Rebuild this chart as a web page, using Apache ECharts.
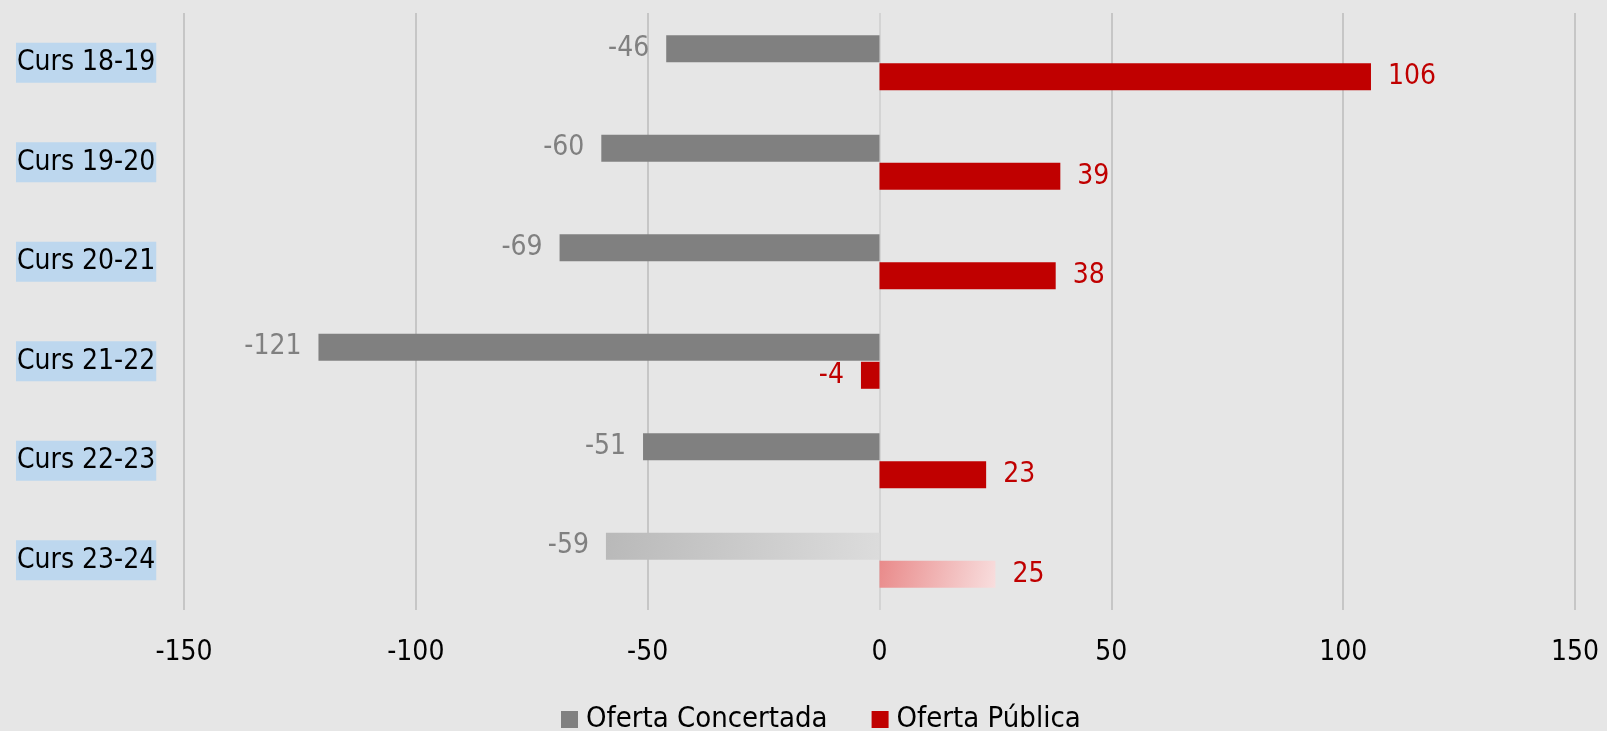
<!DOCTYPE html>
<html>
<head>
<meta charset="utf-8">
<script src="https://cdn.jsdelivr.net/npm/echarts@6/dist/echarts.min.js"></script>
<style>
    html, body { margin: 0; padding: 0; background: #e6e6e6; }
    #chart { width: 1607px; height: 731px; }
</style>
</head>
<body>
<div id="chart"></div>
<script>
const categories = ['Curs 18-19', 'Curs 19-20', 'Curs 20-21', 'Curs 21-22', 'Curs 22-23', 'Curs 23-24']
const concertada = [-46, -60, -69, -121, -51, -59]
const publica = [106, 39, 38, -4, 23, 25]
const seriesNames = ['Oferta Concertada', 'Oferta Pública']

const FONT = '"DejaVu Sans Condensed", "Liberation Sans", sans-serif'
const GREY = '#808080'
const RED = '#c00000'

// last year is a forecast: faded gradient bars
const greyFade = new echarts.graphic.LinearGradient(0, 0, 1, 1, [
    { offset: 0, color: '#b9b9b9' },
    { offset: 1, color: '#dcdcdc' }
])
const redFade = new echarts.graphic.LinearGradient(0, 0, 1, 1, [
    { offset: 0, color: '#e98a8a' },
    { offset: 1, color: '#f8dede' }
])

const makeData = (values, fadeColor) => values.map((v, i) => {
    const item = {
        value: v,
        label: { position: v < 0 ? 'left' : 'right' }
    }
    if (i === values.length - 1) {
        item.itemStyle = { color: fadeColor }
    }
    return item
})

const labelBase = {
    show: true,
    distance: 17,
    fontFamily: FONT,
    fontSize: 28
}

const myChart = echarts.init(document.getElementById('chart'))
const option = {
    backgroundColor: '#e6e6e6',
    animation: false,
    grid: {
        left: 184,
        right: 32,
        top: 13,
        bottom: 121
    },
    legend: {
        bottom: -8,
        left: 556,
        itemWidth: 17,
        itemHeight: 17,
        itemGap: 44,
        icon: 'rect',
        textStyle: { fontFamily: FONT, fontSize: 29, color: '#000', padding: [0, 0, 0, 3] },
        data: seriesNames
    },
    xAxis: {
        type: 'value',
        min: -150,
        max: 150,
        interval: 50,
        axisLine: { show: false },
        axisTick: { show: false },
        splitLine: {
            show: true,
            lineStyle: {
                color: ['#c6c6c6', '#c6c6c6', '#c6c6c6', '#d4d4d4', '#c6c6c6', '#c6c6c6', '#c6c6c6'],
                width: 2
            }
        },
        axisLabel: { fontFamily: FONT, fontSize: 28, color: '#000', margin: 29 }
    },
    yAxis: {
        type: 'category',
        inverse: true,
        data: categories,
        axisLine: { show: false },
        axisTick: { show: false },
        axisLabel: {
            align: 'left',
            margin: 168,
            fontFamily: FONT,
            fontSize: 28,
            color: '#000',
            backgroundColor: '#bdd7ee',
            padding: [6, 1, 6, 1]
        }
    },
    series: [
        {
            name: seriesNames[0],
            type: 'bar',
            barWidth: 27,
            barGap: '4%',
            itemStyle: { color: GREY },
            label: Object.assign({}, labelBase, { color: GREY }),
            data: makeData(concertada, greyFade)
        },
        {
            name: seriesNames[1],
            type: 'bar',
            barWidth: 27,
            itemStyle: { color: RED },
            label: Object.assign({}, labelBase, { color: RED }),
            data: makeData(publica, redFade)
        }
    ]
}
myChart.setOption(option)
</script>
</body>
</html>
